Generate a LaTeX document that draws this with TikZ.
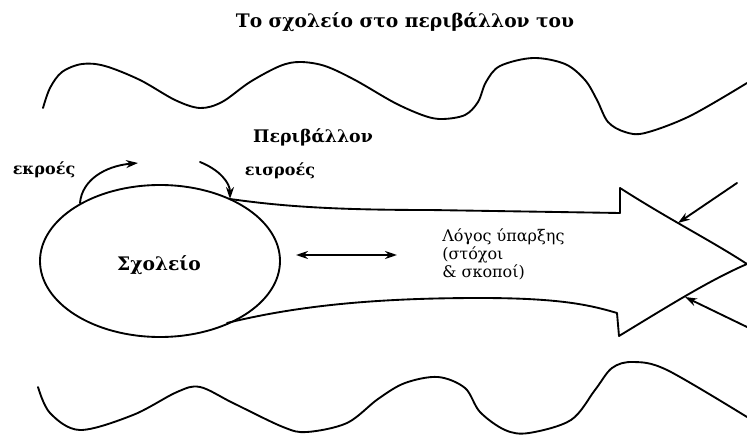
\documentclass[tikz,border=0pt]{standalone}
\usepackage{fontspec}
\setmainfont{DejaVu Serif}
\usetikzlibrary{arrows.meta}
\begin{document}
\begin{tikzpicture}[x=0.75pt,y=-0.75pt,
  line/.style={line width=1.4pt,line cap=round,line join=round},
  arr/.style={-{Stealth[length=9pt,width=6pt]}},
  lbl/.style={inner sep=0pt,font=\fontsize{12}{13.5}\selectfont},
  blbl/.style={inner sep=0pt,font=\fontsize{12}{13.5}\selectfont\bfseries}]
\useasboundingbox (0,0) rectangle (747,435);
% title
\node[inner sep=0pt,font=\fontsize{14}{16}\selectfont\bfseries] (title) at (405,22) {Το σχολείο στο περιβάλλον του};
% waves
\draw[line] plot[smooth,tension=0.55] coordinates {(43,108) (50,88) (62,72) (82,64) (105,66) (140,80) (175,100) (200,108) (222,102) (250,82) (280,66) (300,62) (325,66) (355,80) (395,103) (425,116) (443,119) (465,115) (478,102) (486,82) (500,66) (533,58) (565,64) (585,80) (597,100) (608,122) (625,132) (645,133) (690,116) (747,83)};
\draw[line] plot[smooth,tension=0.55] coordinates {(38,387) (50,413) (80,430) (133,415) (177,392) (200,387) (233,403) (283,427) (307,432) (347,423) (378,399) (405,383) (438,377) (465,388) (480,412) (505,430) (529,433) (571,420) (595,390) (612,368) (633,362) (667,370) (747,417)};
% school
\draw[line] (160,261) ellipse [x radius=120, y radius=76];
\node[inner sep=0pt,font=\fontsize{14}{16}\selectfont\bfseries] (school) at (159,265) {Σχολείο};
% funnel arrow
\coordinate (ut) at (230,199);
\coordinate (lt) at (227,323);
\coordinate (un) at (620,213);
\coordinate (unt) at (620,188);
\coordinate (tip) at (747,264);
\coordinate (ln) at (617,313);
\coordinate (lnb) at (619,336);
\draw[line] (ut) .. controls (280,206) and (330,210) .. (430,210) -- (un) -- (unt) .. controls (670,220) and (710,240) .. (tip)
  .. controls (710,280) and (670,305) .. (lnb) -- (ln) .. controls (590,305) and (560,298) .. (480,298) .. controls (380,298) and (300,305) .. (lt);
% flows
\coordinate (outS) at (80,203);
\coordinate (outE) at (138,163);
\coordinate (inS) at (200,162);
\draw[line,arr] (outS) .. controls (82,180) and (105,166) .. (outE);
\draw[line,arr] (inS) .. controls (220,170) and (230,183) .. (ut);
\node[blbl] (ekroes) at (44,170) {εκροές};
\node[blbl] (eisroes) at (280,171) {εισροές};
\node[inner sep=0pt,font=\fontsize{13}{15}\selectfont\bfseries] (env) at (313,137) {Περιβάλλον};
% double arrow
\coordinate (dl) at (296,255);
\coordinate (dr) at (397,255);
\draw[line,{Stealth[length=9pt,width=6pt]}-{Stealth[length=9pt,width=6pt]}] (dl) -- (dr);
\node[lbl,anchor=north west,align=left] (purpose) at (442,228) {Λόγος ύπαρξης\\(στόχοι\\\& σκοποί)};
% external forces
\coordinate (e1s) at (737,183);
\coordinate (e1e) at (678,223);
\coordinate (e2s) at (747,327);
\coordinate (e2e) at (685,297);
\draw[line,arr] (e1s) -- (e1e);
\draw[line,arr] (e2s) -- (e2e);
\end{tikzpicture}
\end{document}
